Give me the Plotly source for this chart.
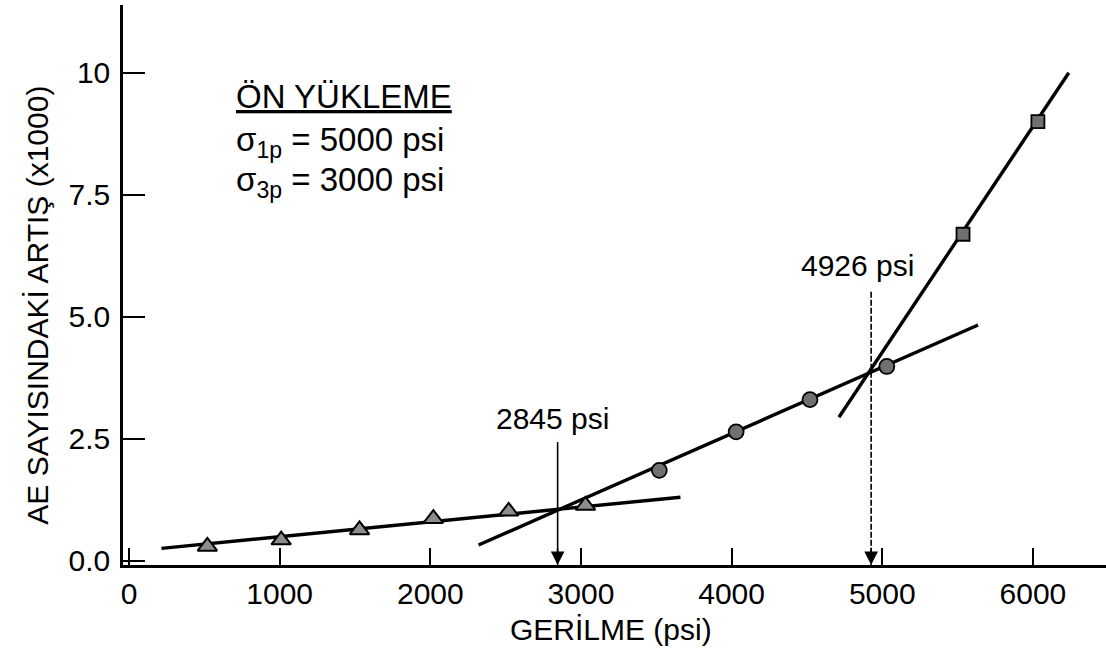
import plotly.graph_objects as go

# ---- data ----
tri_x = [520, 1010, 1530, 2020, 2520, 3030]
tri_y = [0.29, 0.42, 0.63, 0.86, 1.01, 1.13]

circ_x = [3520, 4030, 4520, 5030]
circ_y = [1.85, 2.64, 3.30, 3.98]

sq_x = [5536, 6033]
sq_y = [6.69, 9.00]

fit1_x = [215, 3660]
fit1_y = [0.25, 1.30]
fit2_x = [2320, 5636]
fit2_y = [0.32, 4.83]
fit3_x = [4712, 6238]
fit3_y = [2.94, 10.00]

break_x = [2845, 4926]
break_labels = ["2845 psi", "4926 psi"]
break_top = [2.43, 5.51]
break_label_y = [2.91, 6.05]
break_label_shift = [-5, -14]
break_dash = ["solid", "6px,2px"]

x_ticks = [0, 1000, 2000, 3000, 4000, 5000, 6000]
x_ticktext = ["0", "1000", "2000", "3000", "4000", "5000", "6000"]
y_ticks = [0, 2.5, 5.0, 7.5, 10]
y_ticktext = ["0.0", "2.5", "5.0", "7.5", "10"]

X_RANGE = [-40, 6485]
Y_RANGE = [-0.09, 11.39]

FONT = "Liberation Sans, Arial, Helvetica, sans-serif"

fig = go.Figure()

# fitted lines
for fx, fy in [(fit1_x, fit1_y), (fit2_x, fit2_y), (fit3_x, fit3_y)]:
    fig.add_trace(go.Scatter(x=fx, y=fy, mode="lines",
                             line=dict(color="black", width=3.4),
                             showlegend=False, hoverinfo="skip"))

# breakpoint vertical lines
for bx, top, dash in zip(break_x, break_top, break_dash):
    fig.add_trace(go.Scatter(x=[bx, bx], y=[top, Y_RANGE[0]], mode="lines",
                             line=dict(color="black", width=1.6, dash=dash),
                             showlegend=False, hoverinfo="skip"))

# markers
fig.add_trace(go.Scatter(x=tri_x, y=tri_y, mode="markers",
                         marker=dict(symbol="triangle-up", size=17, color="#8c8c8c",
                                     line=dict(color="black", width=2)),
                         showlegend=False))
fig.add_trace(go.Scatter(x=circ_x, y=circ_y, mode="markers",
                         marker=dict(symbol="circle", size=15, color="#707070",
                                     line=dict(color="black", width=1.8)),
                         showlegend=False))
fig.add_trace(go.Scatter(x=sq_x, y=sq_y, mode="markers",
                         marker=dict(symbol="square", size=13, color="#707070",
                                     line=dict(color="black", width=1.8)),
                         showlegend=False))

annotations = []
# arrowheads touching the x axis
for bx in break_x:
    annotations.append(dict(x=bx, y=Y_RANGE[0], xref="x", yref="y", text="",
                            showarrow=True, ax=0, ay=-18, arrowhead=2, arrowsize=1.7,
                            arrowwidth=1.6, arrowcolor="black", standoff=0))
# breakpoint labels
for bx, lab, ly, sh in zip(break_x, break_labels, break_label_y, break_label_shift):
    annotations.append(dict(x=bx, y=ly, xref="x", yref="y", text=lab, showarrow=False,
                            xanchor="center", yanchor="middle", xshift=sh,
                            font=dict(family=FONT, size=30, color="black")))

# text box
box_lines = ["<u>ÖN YÜKLEME</u>",
             "σ<sub>1p</sub> = 5000 psi",
             "σ<sub>3p</sub> = 3000 psi"]
box_y = [0.836, 0.755, 0.684]
for t, yy in zip(box_lines, box_y):
    annotations.append(dict(x=0.113, y=yy, xref="paper", yref="paper", text=t,
                            showarrow=False, xanchor="left", yanchor="middle",
                            font=dict(family=FONT, size=33, color="black")))

# axis titles
annotations.append(dict(x=0.4965, y=-0.116, xref="paper", yref="paper",
                        text="GERİLME (psi)", showarrow=False,
                        xanchor="center", yanchor="middle",
                        font=dict(family=FONT, size=30, color="black")))
annotations.append(dict(x=-0.087, y=0.464, xref="paper", yref="paper",
                        text="AE SAYISINDAKİ ARTIŞ (x1000)", showarrow=False,
                        textangle=-90, xanchor="center", yanchor="middle",
                        font=dict(family=FONT, size=30, color="black")))

fig.update_layout(
    width=1106, height=656,
    margin=dict(l=123, r=0, t=5, b=91, pad=0),
    paper_bgcolor="white", plot_bgcolor="white",
    annotations=annotations,
    font=dict(family=FONT, color="black"),
)

fig.update_xaxes(range=X_RANGE, showgrid=False, zeroline=False,
                 showline=True, linecolor="black", linewidth=2.5,
                 ticks="inside", ticklen=17, tickwidth=2, tickcolor="black",
                 tickvals=x_ticks, ticktext=x_ticktext,
                 tickfont=dict(family=FONT, size=30, color="black"),
                 ticklabelstandoff=0, automargin=False)
fig.update_yaxes(range=Y_RANGE, showgrid=False, zeroline=False,
                 showline=True, linecolor="black", linewidth=2.5,
                 ticks="inside", ticklen=22, tickwidth=2, tickcolor="black",
                 tickvals=y_ticks, ticktext=y_ticktext,
                 tickfont=dict(family=FONT, size=30, color="black"),
                 ticklabelstandoff=4, automargin=False)

fig.write_html("out.html")
